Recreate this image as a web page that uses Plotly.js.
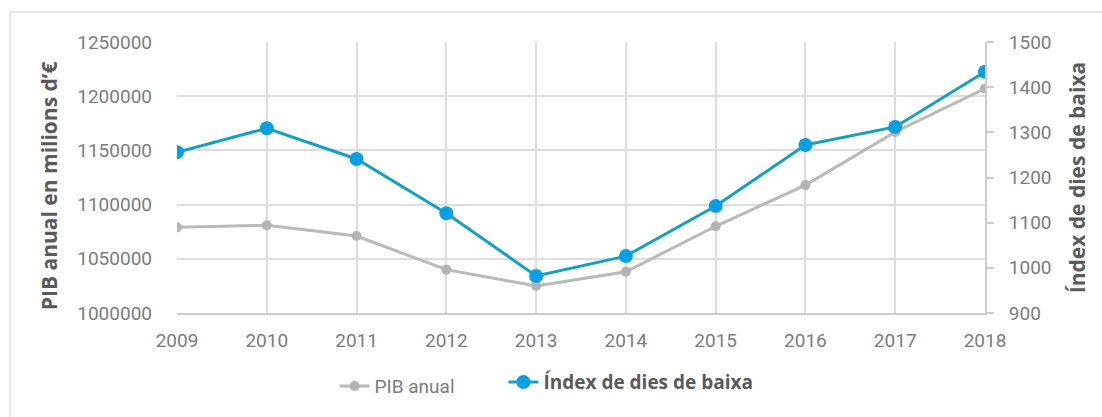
<!DOCTYPE html>
<html>
<head>
<meta charset="utf-8">
<script src="https://cdn.plot.ly/plotly-3.0.1.min.js"></script>
<style>
  html, body { margin: 0; padding: 0; background: #fff; }
  #wrap { position: relative; width: 1102px; height: 417px; overflow: hidden; }
  #frame { position: absolute; left: 9px; top: 11px; width: 1100px; height: 420px;
           border-left: 2px solid #e6e6e6; border-top: 2px solid #e6e6e6; }
  #chart { position: absolute; left: 0; top: 0; width: 1102px; height: 417px; }
</style>
</head>
<body>
<div id="wrap">
  <div id="frame"></div>
  <div id="chart"></div>
</div>
<script>
const years = [2009, 2010, 2011, 2012, 2013, 2014, 2015, 2016, 2017, 2018];
const pibAnual = [1079000, 1081000, 1071000, 1040000, 1025000, 1038000, 1080000, 1118000, 1167000, 1207000];
const indexDiesBaixa = [1256, 1309, 1241, 1121, 982, 1026, 1137, 1272, 1312, 1434];
const seriesNames = ['PIB anual', 'Índex de dies de baixa'];
const leftTitle = 'PIB anual en milions d’€';
const rightTitle = 'Índex de dies de baixa';

const tickFont = { family: 'Roboto, sans-serif', size: 19, color: '#7c7c7c' };
const titleFont = { family: 'Open Sans, sans-serif', size: 21, color: '#5a5a5a', weight: 'bold' };

const traces = [
  {
    x: years, y: pibAnual, name: seriesNames[0], type: 'scatter', mode: 'lines+markers',
    yaxis: 'y', legend: 'legend',
    line: { color: '#b9b9b9', width: 3 },
    marker: { color: '#b4b4b4', size: 10 }
  },
  {
    x: years, y: indexDiesBaixa, name: seriesNames[1], type: 'scatter', mode: 'lines+markers',
    yaxis: 'y2', legend: 'legend2',
    line: { color: '#16a0bf', width: 3 },
    marker: { color: '#0a9fe2', size: 14 }
  }
];

const layout = {
  width: 1102, height: 417,
  margin: { l: 177, r: 117, t: 42, b: 104 },
  paper_bgcolor: 'rgba(0,0,0,0)',
  plot_bgcolor: '#fff',
  showlegend: true,
  xaxis: {
    range: [2009, 2018], dtick: 1, tick0: 2009, fixedrange: true,
    showgrid: true, gridcolor: '#dddddd', gridwidth: 2,
    showline: true, linecolor: '#cccccc', linewidth: 2,
    zeroline: false, ticks: '', tickfont: tickFont, ticklabelstandoff: 9
  },
  yaxis: {
    range: [1000000, 1250000], dtick: 50000, tickformat: 'd', fixedrange: true,
    showgrid: true, gridcolor: '#dddddd', gridwidth: 2,
    showline: false, zeroline: false, ticks: '', tickfont: tickFont, ticklabelstandoff: 24
  },
  yaxis2: {
    range: [900, 1500], dtick: 100, overlaying: 'y', side: 'right', fixedrange: true,
    showgrid: false, zeroline: false, showline: true, linecolor: '#cccccc', linewidth: 2,
    ticks: 'outside', ticklen: 7, tickcolor: '#cccccc', tickwidth: 2,
    tickfont: tickFont, ticklabelstandoff: 11,
    title: { text: rightTitle, font: titleFont, standoff: 20 }
  },
  annotations: [
    {
      text: leftTitle, textangle: -90, showarrow: false,
      xref: 'paper', yref: 'paper', x: -0.1584, y: 0.468,
      xanchor: 'center', yanchor: 'middle', font: titleFont
    }
  ],
  legend: {
    orientation: 'h', x: 0.195, xanchor: 'left', y: -0.2, yanchor: 'top',
    font: { family: 'Roboto, sans-serif', size: 19, color: '#7c7c7c' },
    bgcolor: 'rgba(0,0,0,0)'
  },
  legend2: {
    orientation: 'h', x: 0.404, xanchor: 'left', y: -0.185, yanchor: 'top',
    font: { family: 'Open Sans, sans-serif', size: 19, color: '#5a5a5a', weight: 'bold' },
    bgcolor: 'rgba(0,0,0,0)'
  }
};

Plotly.newPlot('chart', traces, layout, { displayModeBar: false, staticPlot: true });
</script>
</body>
</html>
